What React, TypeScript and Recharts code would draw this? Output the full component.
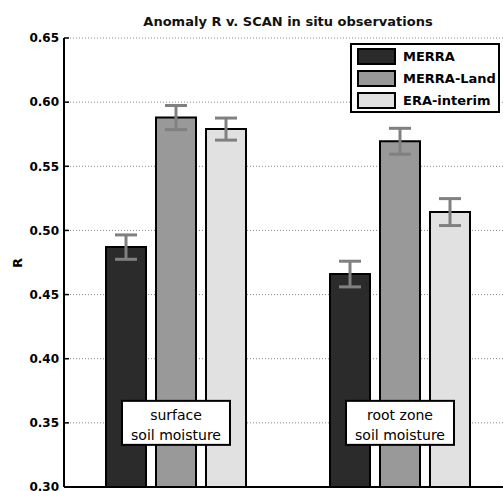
import React from 'react';
import { BarChart, Bar, XAxis, YAxis, CartesianGrid, ErrorBar, Legend, ReferenceDot } from 'recharts';

const categories = ['surface soil moisture', 'root zone soil moisture'];
const merra = [0.487, 0.466];
const merraErr = [0.0095, 0.01];
const merraLand = [0.588, 0.5695];
const merraLandErr = [0.0094, 0.0101];
const eraInterim = [0.579, 0.5143];
const eraInterimErr = [0.0086, 0.0105];
const yTicks = [0.3, 0.35, 0.4, 0.45, 0.5, 0.55, 0.6, 0.65];
const seriesNames = ['MERRA', 'MERRA-Land', 'ERA-interim'];
const annotations = [
  ['surface', 'soil moisture'],
  ['root zone', 'soil moisture'],
];
const annotationY = 0.35;
const title = 'Anomaly R v. SCAN in situ observations';
const yLabel = 'R';

const colors = ['#2b2b2b', '#999999', '#e1e1e1'];
const FONT = '"DejaVu Sans", sans-serif';

const data = categories.map((c, i) => ({
  cat: c,
  merra: merra[i],
  merraErr: merraErr[i],
  land: merraLand[i],
  landErr: merraLandErr[i],
  era: eraInterim[i],
  eraErr: eraInterimErr[i],
}));

const YTick = (props: any) => {
  const { x, y, payload } = props;
  return (
    <g>
      <text x={x} y={y} dy="0.36em" textAnchor="end" fontFamily={FONT} fontWeight="bold" fontSize={12} fill="#000">
        {Number(payload.value).toFixed(2)}
      </text>
      <line x1={x + 5} x2={x + 10} y1={y} y2={y} stroke="#000" strokeWidth={1.5} />
    </g>
  );
};

const TopTick = (props: any) => {
  const { x, y } = props;
  return <line x1={x} x2={x} y1={y} y2={y + 5} stroke="#000" strokeWidth={1.5} />;
};

const LegendBox = () => (
  <div
    style={{
      border: '2px solid #000',
      background: '#fff',
      boxSizing: 'border-box',
      width: 150,
      padding: '0 0 0 5px',
      fontFamily: FONT,
      fontWeight: 'bold',
      fontSize: 13,
      color: '#000',
    }}
  >
    {seriesNames.map((n, i) => (
      <div key={n} style={{ display: 'flex', alignItems: 'center', height: 22 }}>
        <div
          style={{
            width: 39,
            height: 17,
            boxSizing: 'border-box',
            border: '2px solid #000',
            background: colors[i],
          }}
        />
        <span style={{ marginLeft: 7, whiteSpace: 'nowrap' }}>{n}</span>
      </div>
    ))}
  </div>
);

const makeAnnotation = (lines: string[]) => (props: any) => {
  const { cx, cy } = props;
  return (
    <g>
      <rect x={cx - 54} y={cy - 22} width={108} height={44} fill="#fff" stroke="#000" strokeWidth={2} />
      <text x={cx} y={cy - 8} dy="0.35em" textAnchor="middle" fontFamily={FONT} fontSize={14} fill="#000">
        {lines[0]}
      </text>
      <text x={cx} y={cy + 12} dy="0.35em" textAnchor="middle" fontFamily={FONT} fontSize={14} fill="#000">
        {lines[1]}
      </text>
    </g>
  );
};

export default function App() {
  return (
    <div
      style={{
        position: 'absolute',
        left: 0,
        top: 0,
        width: 503,
        height: 491,
        overflow: 'hidden',
        background: '#fff',
      }}
    >
      <BarChart
        width={522}
        height={507}
        data={data}
        margin={{ top: 38, right: 10, left: 0, bottom: 0 }}
        barSize={40}
        barGap={10}
      >
        <CartesianGrid vertical={false} stroke="#8a8a8a" strokeDasharray="1 2" />
        <XAxis
          dataKey="cat"
          height={20}
          tick={false}
          tickLine={false}
          axisLine={{ stroke: '#000', strokeWidth: 2 }}
        />
        <XAxis
          xAxisId="top"
          dataKey="cat"
          orientation="top"
          mirror
          height={0}
          tickSize={0}
          tickMargin={0}
          tickLine={false}
          tick={<TopTick />}
          axisLine={{ stroke: '#000', strokeWidth: 2 }}
        />
        <YAxis
          width={64}
          domain={[0.3, 0.65]}
          ticks={yTicks}
          interval={0}
          allowDataOverflow
          tickSize={0}
          tickMargin={5}
          tickLine={false}
          tick={<YTick />}
          axisLine={{ stroke: '#000', strokeWidth: 2 }}
        />
        <Legend
          layout="horizontal"
          verticalAlign="middle"
          align="center"
          content={<LegendBox />}
          wrapperStyle={{ position: 'absolute', top: 43, left: 350, width: 150, height: 70 }}
        />
        <Bar dataKey="merra" name={seriesNames[0]} fill={colors[0]} stroke="#000" strokeWidth={2} isAnimationActive={false}>
          <ErrorBar dataKey="merraErr" width={11} stroke="#808080" strokeWidth={3} />
        </Bar>
        <Bar dataKey="land" name={seriesNames[1]} fill={colors[1]} stroke="#000" strokeWidth={2} isAnimationActive={false}>
          <ErrorBar dataKey="landErr" width={11} stroke="#808080" strokeWidth={3} />
        </Bar>
        <Bar dataKey="era" name={seriesNames[2]} fill={colors[2]} stroke="#000" strokeWidth={2} isAnimationActive={false}>
          <ErrorBar dataKey="eraErr" width={11} stroke="#808080" strokeWidth={3} />
        </Bar>
        {categories.map((c, i) => (
          <ReferenceDot
            key={c}
            x={c}
            y={annotationY}
            r={0}
            ifOverflow="visible"
            shape={makeAnnotation(annotations[i])}
          />
        ))}
      </BarChart>
      <svg
        width={503}
        height={491}
        style={{ position: 'absolute', left: 0, top: 0, pointerEvents: 'none' }}
      >
        <text x={288} y={26} textAnchor="middle" fontFamily={FONT} fontWeight="bold" fontSize={13} fill="#111">
          {title}
        </text>
        <text
          x={17}
          y={263}
          transform="rotate(-90 17 263)"
          dy="0.35em"
          textAnchor="middle"
          fontFamily={FONT}
          fontWeight="bold"
          fontSize={13}
          fill="#000"
        >
          {yLabel}
        </text>
      </svg>
    </div>
  );
}
